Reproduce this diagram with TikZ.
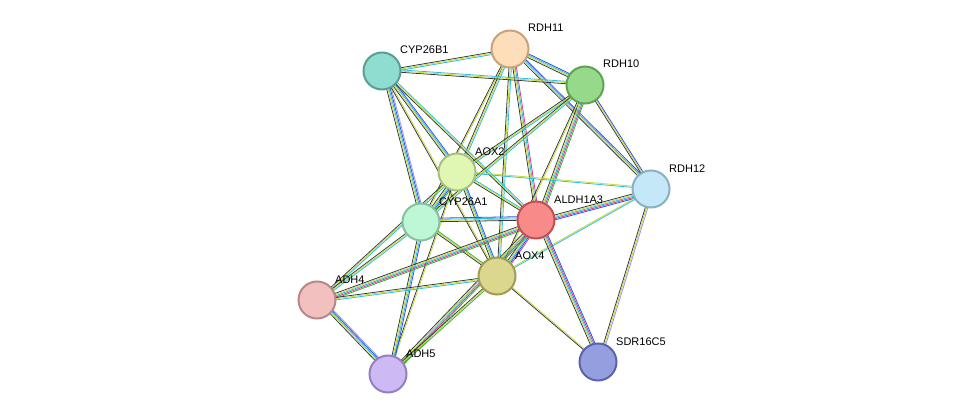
\documentclass[tikz,border=0pt]{standalone}
\usepackage{fontspec}
\setmainfont{Liberation Sans}
\usetikzlibrary{calc,backgrounds}
\definecolor{ek}{HTML}{3A3A3A}
\definecolor{ey}{HTML}{C4DA3C}
\definecolor{ec}{HTML}{2FBFD6}
\definecolor{eb}{HTML}{3050F0}
\definecolor{em}{HTML}{D03C9A}
\definecolor{eg}{HTML}{3AAE3A}
\definecolor{ep}{HTML}{9A9AE0}
\newcommand\ed[3]{\foreach \cc [count=\i] in {#3}{\pgfmathsetmacro\off{(\i-1)*1.2}\draw[draw=e\cc,line width=0.8pt] ($(#1)!\off pt!90:(#2)$) -- ($(#2)!\off pt!-90:(#1)$);}}
\newcommand\prot[6]{\definecolor{f#1}{HTML}{#4}\definecolor{d#1}{HTML}{#5}%
 \node[protst,fill=f#1,draw=d#1] (#1) at (#2,#3) {};\node[lab] at (#2+18,#3-17) {#6};}
\tikzset{protst/.style={circle,minimum size=37pt,inner sep=0pt,line width=2pt},
 lab/.style={anchor=base west,font=\fontsize{11}{13}\selectfont,inner sep=0pt}}
\begin{document}
\begin{tikzpicture}[x=1pt,y=-1pt]
\useasboundingbox (0,0) rectangle (975,420);
\prot{RDH11}{510}{49}{FDDDBA}{C8A27C}{RDH11}
\prot{CYP26B1}{382}{71}{8FDDD1}{5A9E94}{CYP26B1}
\prot{RDH10}{585}{85}{96D98A}{5EA452}{RDH10}
\prot{AOX2}{457}{172}{E0F7B4}{A8C07E}{AOX2}
\prot{RDH12}{651}{189}{C4E8F8}{8AB0C4}{RDH12}
\prot{CYP26A1}{421}{222}{BEF7D6}{86C09E}{CYP26A1}
\prot{ALDH1A3}{536}{220}{F88A8A}{C05050}{ALDH1A3}
\prot{AOX4}{497}{276}{DCD78F}{A09C58}{AOX4}
\prot{ADH4}{317}{300}{F3C0C0}{B88888}{ADH4}
\prot{ADH5}{388}{374}{CDBAF5}{9480C0}{ADH5}
\prot{SDR16C5}{598}{362}{959EDE}{5A64A8}{SDR16C5}
\begin{scope}[on background layer]
\fill[white] (0,0) rectangle (975,420);
\ed{RDH11}{CYP26B1}{k,y,c}
\ed{RDH11}{RDH10}{k,y,c,b}
\ed{RDH11}{RDH12}{k,y,c,b}
\ed{RDH11}{AOX2}{k,y,c}
\ed{RDH11}{CYP26A1}{k,y}
\ed{RDH11}{ALDH1A3}{k,y,c,m}
\ed{RDH11}{AOX4}{k,y,c}
\ed{CYP26B1}{RDH10}{k,y,c}
\ed{CYP26B1}{AOX2}{k,y,c,b}
\ed{CYP26B1}{CYP26A1}{k,y,c,b,p}
\ed{CYP26B1}{ALDH1A3}{k,y,c}
\ed{CYP26B1}{AOX4}{k,y}
\ed{RDH10}{AOX2}{k,y,c}
\ed{RDH10}{CYP26A1}{k,y,c}
\ed{RDH10}{ALDH1A3}{k,y,c,m,g}
\ed{RDH10}{RDH12}{k,y,b}
\ed{RDH10}{AOX4}{k,y}
\ed{AOX2}{CYP26A1}{k,y,c,b,g}
\ed{AOX2}{ALDH1A3}{k,y,c}
\ed{AOX2}{AOX4}{k,y,c,b}
\ed{AOX2}{RDH12}{c,y}
\ed{AOX2}{ADH4}{k,y,c}
\ed{AOX2}{ADH5}{k,y}
\ed{RDH12}{ALDH1A3}{k,y,c,m,b}
\ed{RDH12}{SDR16C5}{k,y,p}
\ed{RDH12}{AOX4}{y,c}
\ed{CYP26A1}{ALDH1A3}{k,y,c,b}
\ed{CYP26A1}{AOX4}{k,y,g}
\ed{CYP26A1}{ADH4}{k,y,c}
\ed{CYP26A1}{ADH5}{k,y,c,b}
\ed{ALDH1A3}{AOX4}{k,y,c,b,m}
\ed{ALDH1A3}{ADH4}{k,y,c,m,g}
\ed{ALDH1A3}{ADH5}{k,y,c,m,g}
\ed{ALDH1A3}{SDR16C5}{k,y,c,m,b}
\ed{AOX4}{ADH4}{k,y,c}
\ed{AOX4}{ADH5}{k,y,g}
\ed{AOX4}{SDR16C5}{k,y}
\ed{ADH4}{ADH5}{k,y,c,b,p}
\end{scope}
\end{tikzpicture}
\end{document}
